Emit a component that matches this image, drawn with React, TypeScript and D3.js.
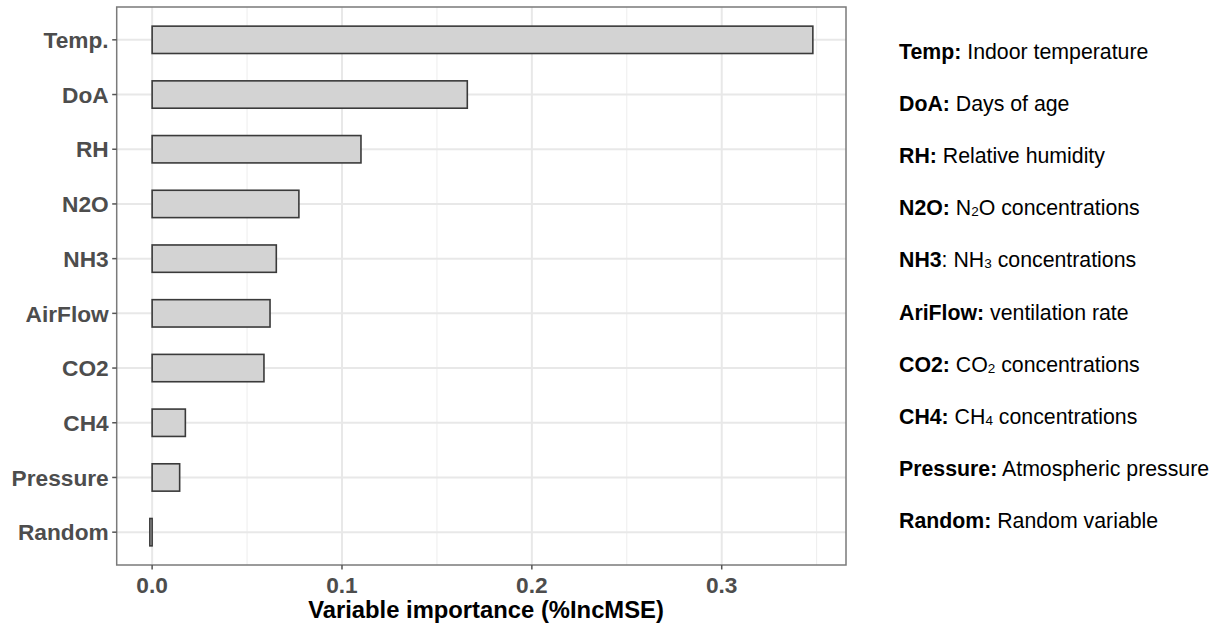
import React from "react";
import * as d3 from "d3";

// Variable importance from the random forest model (%IncMSE)
const variables = ["Temp.", "DoA", "RH", "N2O", "NH3", "AirFlow", "CO2", "CH4", "Pressure", "Random"];
const importance = [0.348, 0.166, 0.110, 0.0773, 0.0654, 0.0621, 0.0589, 0.0175, 0.0145, -0.0012];
const xTicks = [0, 0.1, 0.2, 0.3];
const xMinorTicks = [0.05, 0.15, 0.25, 0.35];

// Key describing each abbreviation; subscript digits are given separately
type Part = { t: string; sub?: boolean; bold?: boolean };
const keyLines: Part[][] = [
  [{ t: "Temp:", bold: true }, { t: " Indoor temperature" }],
  [{ t: "DoA:", bold: true }, { t: " Days of age" }],
  [{ t: "RH:", bold: true }, { t: " Relative humidity" }],
  [{ t: "N2O:", bold: true }, { t: " N" }, { t: "2", sub: true }, { t: "O concentrations" }],
  [{ t: "NH3", bold: true }, { t: ": NH" }, { t: "3", sub: true }, { t: " concentrations" }],
  [{ t: "AriFlow:", bold: true }, { t: " ventilation rate" }],
  [{ t: "CO2:", bold: true }, { t: " CO" }, { t: "2", sub: true }, { t: " concentrations" }],
  [{ t: "CH4:", bold: true }, { t: " CH" }, { t: "4", sub: true }, { t: " concentrations" }],
  [{ t: "Pressure:", bold: true }, { t: " Atmospheric pressure" }],
  [{ t: "Random:", bold: true }, { t: " Random variable" }],
];

const W = 1215;
const H = 624;
const panel = { left: 116.7, right: 846, top: 7, bottom: 565 };
const FONT = "'Liberation Sans', Arial, Helvetica, sans-serif";
const KEY_SIZE = 21.3;

export default function App() {
  const lo = d3.min(importance) as number;
  const hi = d3.max(importance) as number;
  const pad = (hi - lo) * 0.05;
  const x = d3.scaleLinear().domain([lo - pad, hi + pad]).range([panel.left, panel.right]);

  const step = (panel.bottom - panel.top) / (variables.length - 1 + 1.2);
  const yC = (i: number) => panel.top + step * (0.6 + i);
  const barH = step * 0.5;

  return (
    <svg width={W} height={H} style={{ position: "absolute", left: 0, top: 0, background: "#fff" }}>
      <rect x={0} y={0} width={W} height={H} fill="#fff" />
      {/* grid */}
      {xMinorTicks.filter((t) => x(t) < panel.right).map((t) => (
        <line key={"mn" + t} x1={x(t)} x2={x(t)} y1={panel.top} y2={panel.bottom} stroke="#ededed" strokeWidth={1} />
      ))}
      {xTicks.map((t) => (
        <line key={"mj" + t} x1={x(t)} x2={x(t)} y1={panel.top} y2={panel.bottom} stroke="#e8e8e8" strokeWidth={2} />
      ))}
      {variables.map((v, i) => (
        <line key={"hg" + v} x1={panel.left} x2={panel.right} y1={yC(i)} y2={yC(i)} stroke="#e8e8e8" strokeWidth={2} />
      ))}
      {/* bars */}
      {variables.map((v, i) => {
        const a = x(Math.min(0, importance[i]));
        const b = x(Math.max(0, importance[i]));
        return (
          <rect key={"b" + v} x={a} y={yC(i) - barH / 2} width={Math.max(b - a, 0.5)} height={barH}
            fill="#d3d3d3" stroke="#3a3a3a" strokeWidth={1.6} />
        );
      })}
      {/* panel border */}
      <rect x={panel.left} y={panel.top} width={panel.right - panel.left} height={panel.bottom - panel.top}
        fill="none" stroke="#7a7a7a" strokeWidth={1.5} />
      {/* y axis */}
      {variables.map((v, i) => (
        <g key={"yl" + v}>
          <line x1={panel.left - 4.5} x2={panel.left} y1={yC(i)} y2={yC(i)} stroke="#555" strokeWidth={1.5} />
          <text x={panel.left - 8} y={yC(i)} dy="0.36em" textAnchor="end" fontFamily={FONT} fontWeight="bold"
            fontSize={22.7} fill="#4d4d4d">{v}</text>
        </g>
      ))}
      {/* x axis */}
      {xTicks.map((t) => (
        <g key={"xl" + t}>
          <line x1={x(t)} x2={x(t)} y1={panel.bottom} y2={panel.bottom + 4.5} stroke="#555" strokeWidth={1.5} />
          <text x={x(t)} y={593} textAnchor="middle" fontFamily={FONT} fontWeight="bold" fontSize={22.7} fill="#4d4d4d">
            {d3.format(".1f")(t)}
          </text>
        </g>
      ))}
      <text x={486} y={618} textAnchor="middle" fontFamily={FONT} fontWeight="bold"
        fontSize={23.8} fill="#000">Variable importance (%IncMSE)</text>
      {/* abbreviation key */}
      {keyLines.map((parts, i) => (
        <text key={"k" + i} x={899} y={58.5 + i * 52.2} fontFamily={FONT} fontSize={KEY_SIZE} fill="#000">
          {parts.map((p, j) => (
            <tspan key={j} fontWeight={p.bold ? "bold" : "normal"} fontSize={p.sub ? 13.5 : KEY_SIZE}
              dy={p.sub ? 1 : j > 0 && parts[j - 1].sub ? -1 : 0}>{p.t}</tspan>
          ))}
        </text>
      ))}
    </svg>
  );
}
